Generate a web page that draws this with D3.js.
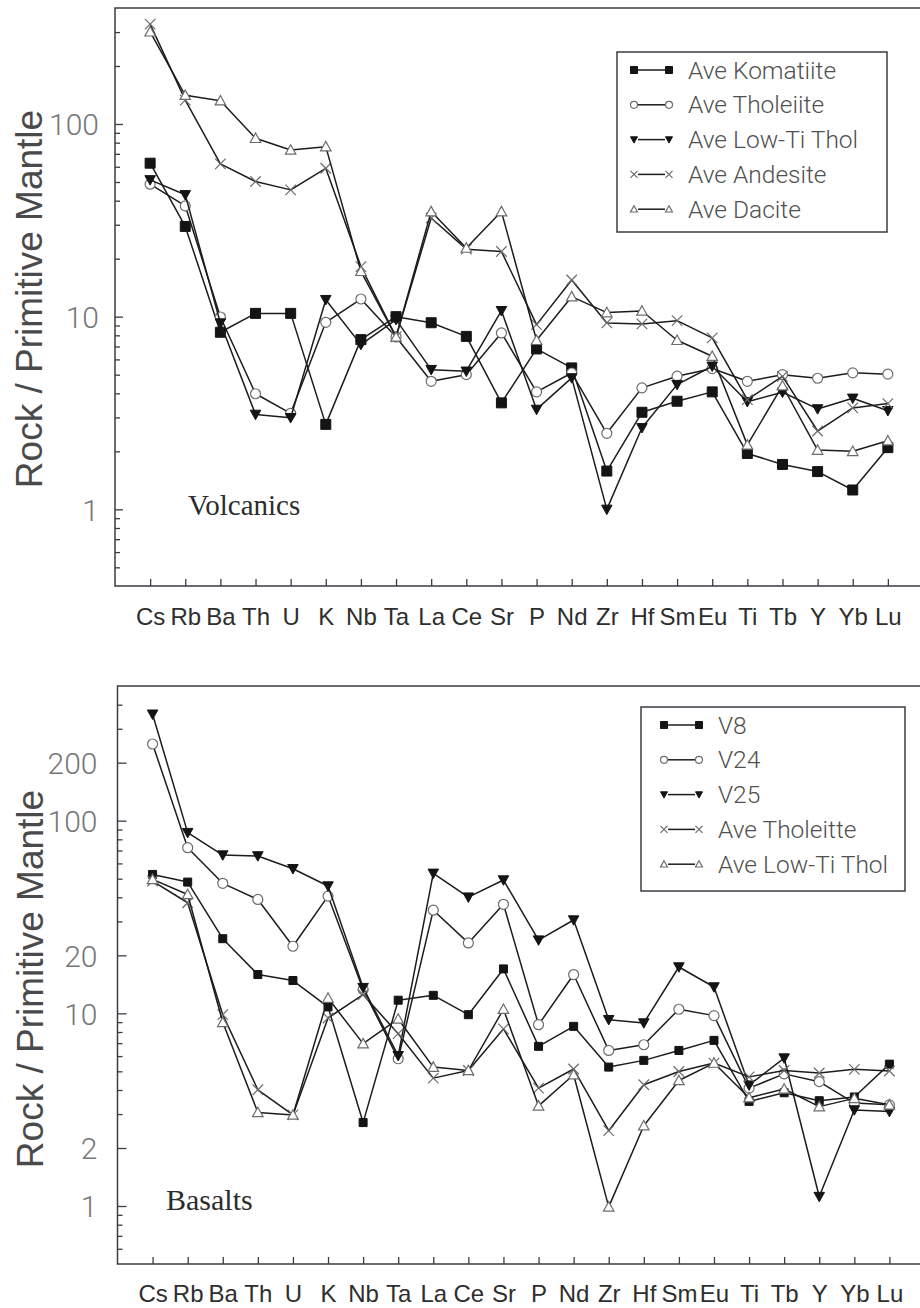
<!DOCTYPE html>
<html>
<head>
<meta charset="utf-8">
<script src="https://cdn.jsdelivr.net/npm/d3@7"></script>
<style>
  html, body { margin: 0; padding: 0; background: #ffffff; }
  svg { display: block; }
</style>
</head>
<body>
<svg id="chart" width="920" height="1308"></svg>
<script>
// Element order along the x axis (spider diagram)
const elements = ["Cs","Rb","Ba","Th","U","K","Nb","Ta","La","Ce","Sr","P","Nd","Zr","Hf","Sm","Eu","Ti","Tb","Y","Yb","Lu"];

// Volcanics, normalised to primitive mantle
const aveKomatiite = [62.6, 29.4, 8.3, 10.4, 10.4, 2.76, 7.6, 10.0, 9.3, 7.9, 3.57, 6.8, 5.42, 1.58, 3.19, 3.64, 4.07, 1.95, 1.71, 1.57, 1.26, 2.09];
const aveTholeiite = [48.7, 37.6, 9.96, 3.98, 3.15, 9.35, 12.35, 7.85, 4.62, 5.0, 8.23, 4.07, 5.1, 2.48, 4.27, 4.91, 5.38, 4.62, 5.0, 4.79, 5.11, 5.03];
const aveLowTiThol = [51.3, 42.9, 9.27, 3.11, 2.99, 12.25, 7.16, 9.65, 5.31, 5.21, 10.74, 3.30, 4.81, 1.0, 2.65, 4.44, 5.53, 3.62, 4.05, 3.32, 3.77, 3.25];
const aveAndesite = [330, 133, 62.1, 50.3, 45.5, 58.9, 18.2, 7.85, 32.5, 22.4, 21.8, 9.09, 15.5, 9.28, 9.17, 9.53, 7.76, 3.71, 4.9, 2.55, 3.36, 3.54];
const aveDacite = [301, 141, 132, 84.3, 73.3, 76.3, 17.2, 7.85, 35.1, 22.7, 35.1, 7.54, 12.7, 10.5, 10.7, 7.54, 6.23, 2.16, 4.38, 2.03, 2.0, 2.27];

// Basalts, normalised to primitive mantle
const v8 = [52.6, 48.0, 24.4, 15.9, 14.8, 10.8, 2.71, 11.7, 12.4, 9.84, 17.0, 6.74, 8.56, 5.26, 5.70, 6.42, 7.24, 3.49, 3.87, 3.52, 3.68, 5.45];
const v24 = [250, 72.4, 47.3, 39.0, 22.3, 40.6, 13.3, 5.81, 34.3, 23.2, 36.8, 8.73, 15.9, 6.42, 6.87, 10.5, 9.73, 4.09, 4.85, 4.42, 3.42, 3.35];
const v25 = [357, 86.7, 66.3, 65.6, 56.3, 45.8, 13.6, 6.03, 53.3, 40.1, 49.2, 24.0, 30.5, 9.27, 8.91, 17.4, 13.7, 4.24, 5.86, 1.12, 3.15, 3.09];
const basaltAveTholeitte = [48.6, 37.5, 9.84, 4.01, 2.97, 9.46, 12.5, 7.84, 4.61, 5.05, 8.30, 4.09, 5.14, 2.46, 4.26, 4.99, 5.52, 4.68, 5.05, 4.90, 5.12, 5.02];
const basaltAveLowTiThol = [49.6, 41.4, 8.98, 3.06, 2.97, 12.0, 6.96, 9.35, 5.26, 5.05, 10.5, 3.31, 4.80, 0.99, 2.61, 4.48, 5.52, 3.65, 4.05, 3.28, 3.62, 3.35];

// Labelled y ticks
const volcanicTickLabels = [1, 10, 100];
const basaltTickLabels = [1, 2, 10, 20, 100, 200];

const yTitle = "Rock / Primitive Mantle";

const svg = d3.select("#chart");

const markerStyle = {
  square:  { fill: "#141414", stroke: "#141414", sw: 1 },
  circle:  { fill: "#ffffff", stroke: "#6c6c6c", sw: 1.2 },
  triDown: { fill: "#141414", stroke: "#141414", sw: 1 },
  cross:   { fill: "none",    stroke: "#6c6c6c", sw: 1.2 },
  triUp:   { fill: "#ffffff", stroke: "#6c6c6c", sw: 1.2 }
};

function markerPath(type, s) {
  const h = s / 2;
  switch (type) {
    case "square":  return `M${-h},${-h}h${s}v${s}h${-s}Z`;
    case "triDown": return `M${-h},${-h * 0.8}L${h},${-h * 0.8}L0,${h}Z`;
    case "triUp":   return `M0,${-h}L${h},${h * 0.8}L${-h},${h * 0.8}Z`;
    case "cross":   return `M${-h},${-h}L${h},${h}M${-h},${h}L${h},${-h}`;
  }
  return "";
}

function drawMarker(g, type, cx, cy, s) {
  const st = markerStyle[type];
  if (type === "circle") {
    g.append("circle").attr("cx", cx).attr("cy", cy).attr("r", s / 2)
      .attr("fill", st.fill).attr("stroke", st.stroke).attr("stroke-width", st.sw);
  } else {
    g.append("path").attr("d", markerPath(type, s))
      .attr("transform", `translate(${cx},${cy})`)
      .attr("fill", st.fill).attr("stroke", st.stroke).attr("stroke-width", st.sw);
  }
}

const panels = [
  {
    note: "Volcanics",
    left: 115, right: 923, top: 8, bottom: 586,
    domain: [0.4, 400],
    tickLabels: volcanicTickLabels,
    labelPad: 16, majorLen: 8, minorLen: 5,
    xLabelPad: 22,
    squareSize: 10,
    series: [
      { label: "Ave Komatiite",  values: aveKomatiite, marker: "square" },
      { label: "Ave Tholeiite",  values: aveTholeiite, marker: "circle" },
      { label: "Ave Low-Ti Thol", values: aveLowTiThol, marker: "triDown" },
      { label: "Ave Andesite",   values: aveAndesite,  marker: "cross" },
      { label: "Ave Dacite",     values: aveDacite,    marker: "triUp" }
    ],
    legend: { x0: 617, y0: 52, x1: 887, y1: 232, m1: 634, m2: 669, tx: 688, first: 70, gap: 34.8 },
    noteX: 188, noteY: 515, noteSize: 29,
    titleX: 42, titleCy: 299
  },
  {
    note: "Basalts",
    left: 117.5, right: 924.5, top: 686, bottom: 1264,
    domain: [0.5, 500],
    tickLabels: basaltTickLabels,
    labelPad: 20, majorLen: 9, minorLen: 5,
    xLabelPad: 20.5,
    squareSize: 8,
    series: [
      { label: "V8",  values: v8,  marker: "square" },
      { label: "V24", values: v24, marker: "circle" },
      { label: "V25", values: v25, marker: "triDown" },
      { label: "Ave Tholeitte",   values: basaltAveTholeitte, marker: "cross" },
      { label: "Ave Low-Ti Thol", values: basaltAveLowTiThol, marker: "triUp" }
    ],
    legend: { x0: 641, y0: 707, x1: 905, y1: 891, m1: 664, m2: 699, tx: 718, first: 725, gap: 34.8 },
    noteX: 166, noteY: 1210, noteSize: 30,
    titleX: 43, titleCy: 979
  }
];

panels.forEach(p => {
  const g = svg.append("g");

  const x = d3.scalePoint().domain(elements).range([p.left, p.right]).padding(1);
  const y = d3.scaleLog().domain(p.domain).range([p.bottom, p.top]);

  // Plot frame
  g.append("path")
    .attr("d", `M${p.right},${p.top}H${p.left}V${p.bottom}H${p.right}V${p.top}`)
    .attr("fill", "none").attr("stroke", "#3a3c44").attr("stroke-width", 1.5);

  // Y axis: inward ticks, all log minor ticks, labels only on selected values
  const tickVals = y.ticks().filter(v => v > p.domain[0] * 1.0001 && v < p.domain[1] * 0.9999);
  const labelled = new Set(p.tickLabels);
  const yAxis = d3.axisLeft(y)
    .tickValues(tickVals)
    .tickSizeInner(-p.minorLen)
    .tickSizeOuter(0)
    .tickPadding(p.labelPad)
    .tickFormat(v => labelled.has(v) ? String(v) : "");
  const ya = g.append("g").attr("transform", `translate(${p.left},0)`).call(yAxis);
  ya.select(".domain").remove();
  ya.selectAll(".tick line")
    .attr("x2", d => labelled.has(d) ? p.majorLen : p.minorLen)
    .attr("stroke", "#3a3c44").attr("stroke-width", 1.3);
  ya.selectAll(".tick text")
    .attr("fill", "#767676")
    .attr("font-family", "Roboto, 'Liberation Sans', Arial, sans-serif")
    .attr("font-weight", 300)
    .attr("font-size", 30)
    .attr("dy", "0.36em");

  // X axis: inward ticks at each element
  const xAxis = d3.axisBottom(x).tickSizeInner(-7).tickSizeOuter(0).tickPadding(p.xLabelPad);
  const xa = g.append("g").attr("transform", `translate(0,${p.bottom})`).call(xAxis);
  xa.select(".domain").remove();
  xa.selectAll(".tick line").attr("stroke", "#3a3c44").attr("stroke-width", 1.3);
  xa.selectAll(".tick text")
    .attr("fill", "#2e2e2e")
    .attr("font-family", "'Liberation Sans', Arial, sans-serif")
    .attr("font-size", 24);

  // Y axis title
  g.append("text")
    .attr("transform", `translate(${p.titleX},${p.titleCy}) rotate(-90)`)
    .attr("text-anchor", "middle")
    .attr("font-family", "'Liberation Sans', Arial, sans-serif")
    .attr("font-size", 37)
    .attr("fill", "#4a4a4a")
    .text(yTitle);

  // Panel note
  g.append("text")
    .attr("x", p.noteX).attr("y", p.noteY)
    .attr("font-family", "'Liberation Serif', 'Times New Roman', serif")
    .attr("font-size", p.noteSize)
    .attr("fill", "#2c2c2c")
    .text(p.note);

  // Series lines and markers
  const line = d3.line()
    .x((d, i) => x(elements[i]))
    .y(d => y(d));
  p.series.forEach(s => {
    const sg = g.append("g");
    sg.append("path")
      .attr("d", line(s.values))
      .attr("fill", "none")
      .attr("stroke", "#1c1c1c")
      .attr("stroke-width", 1.5)
      .attr("stroke-linejoin", "round");
    s.values.forEach((v, i) => {
      const size = s.marker === "square" ? p.squareSize : (s.marker === "circle" ? 10 : 10.5);
      drawMarker(sg, s.marker, x(elements[i]), y(v), size);
    });
  });

  // Legend
  const L = p.legend;
  const lg = g.append("g");
  lg.append("rect")
    .attr("x", L.x0).attr("y", L.y0)
    .attr("width", L.x1 - L.x0).attr("height", L.y1 - L.y0)
    .attr("fill", "#ffffff").attr("stroke", "#3a3c44").attr("stroke-width", 1.5);
  p.series.forEach((s, i) => {
    const cy = L.first + i * L.gap;
    lg.append("line")
      .attr("x1", L.m1 + 4).attr("x2", L.m2 - 4)
      .attr("y1", cy).attr("y2", cy)
      .attr("stroke", "#1c1c1c").attr("stroke-width", 1.5);
    drawMarker(lg, s.marker, L.m1, cy, 7);
    drawMarker(lg, s.marker, L.m2, cy, 7);
    lg.append("text")
      .attr("x", L.tx).attr("y", cy + 8.5)
      .attr("font-family", "Roboto, 'Liberation Sans', Arial, sans-serif")
      .attr("font-weight", 300)
      .attr("font-size", 24.5)
      .attr("fill", "#505050")
      .text(s.label);
  });
});
</script>
</body>
</html>
